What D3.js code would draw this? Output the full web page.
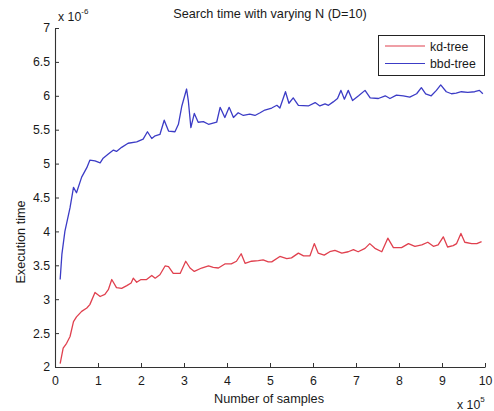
<!DOCTYPE html>
<html>
<head>
<meta charset="utf-8">
<script src="https://cdn.jsdelivr.net/npm/d3@7"></script>
<style>
  html, body { margin: 0; padding: 0; background: #fff; }
  svg { display: block; font-family: "Liberation Sans", Arial, sans-serif; }
</style>
</head>
<body>
<svg id="chart" width="494" height="411"></svg>
<script>
// Number of samples (x 10^5) and search time (x 10^-6) per structure
const kdX = [0.12,0.19,0.27,0.35,0.43,0.5,0.62,0.74,0.81,0.93,1.05,1.16,1.24,1.32,1.43,1.55,1.67,1.77,1.82,1.9,2.0,2.13,2.25,2.33,2.44,2.56,2.64,2.75,2.91,3.04,3.14,3.24,3.41,3.57,3.68,3.8,3.95,4.1,4.22,4.33,4.42,4.57,4.73,4.84,4.96,5.04,5.23,5.39,5.5,5.66,5.78,5.93,6.03,6.12,6.26,6.39,6.51,6.67,6.82,6.94,7.05,7.21,7.32,7.44,7.6,7.74,7.87,8.06,8.22,8.37,8.53,8.67,8.8,8.91,9.03,9.13,9.26,9.34,9.44,9.53,9.69,9.81,9.92];
const kdY = [2.05,2.28,2.35,2.45,2.67,2.74,2.82,2.87,2.92,3.1,3.04,3.07,3.14,3.29,3.17,3.16,3.2,3.24,3.31,3.25,3.29,3.29,3.35,3.31,3.36,3.49,3.48,3.38,3.38,3.56,3.46,3.41,3.46,3.49,3.47,3.46,3.52,3.52,3.56,3.67,3.53,3.56,3.57,3.58,3.55,3.55,3.63,3.6,3.61,3.68,3.64,3.64,3.82,3.68,3.65,3.7,3.72,3.68,3.7,3.73,3.7,3.75,3.82,3.75,3.7,3.9,3.76,3.76,3.82,3.78,3.8,3.84,3.78,3.8,3.92,3.77,3.79,3.82,3.97,3.84,3.82,3.82,3.85];

const bbdX = [0.12,0.16,0.23,0.35,0.43,0.5,0.62,0.74,0.81,0.93,1.05,1.12,1.24,1.36,1.43,1.55,1.7,1.9,2.05,2.15,2.25,2.33,2.44,2.54,2.64,2.79,2.87,2.95,3.06,3.1,3.16,3.24,3.33,3.45,3.57,3.76,3.84,3.95,4.05,4.15,4.26,4.38,4.53,4.65,4.77,4.88,5.04,5.16,5.23,5.36,5.44,5.54,5.66,5.89,6.05,6.16,6.28,6.36,6.47,6.57,6.65,6.73,6.82,6.92,7.06,7.21,7.33,7.52,7.68,7.79,7.94,8.1,8.25,8.41,8.52,8.62,8.75,8.87,8.97,9.1,9.22,9.33,9.45,9.6,9.76,9.87,9.95];
const bbdY = [3.29,3.66,4.0,4.35,4.65,4.57,4.8,4.94,5.05,5.04,5.01,5.08,5.14,5.2,5.18,5.24,5.3,5.32,5.36,5.47,5.37,5.41,5.43,5.64,5.48,5.47,5.58,5.85,6.1,5.93,5.53,5.74,5.61,5.62,5.58,5.61,5.83,5.68,5.83,5.68,5.75,5.71,5.73,5.71,5.75,5.79,5.82,5.86,5.82,6.06,5.89,5.97,5.86,5.85,5.9,5.85,5.88,5.86,5.91,5.96,6.08,5.95,6.08,5.93,6.0,6.08,5.97,5.96,6.0,5.96,6.01,6.0,5.98,6.03,6.12,6.03,6.0,6.08,6.16,6.06,6.03,6.04,6.06,6.05,6.06,6.08,6.03];

const xTicks = [0,1,2,3,4,5,6,7,8,9,10];
const yTicks = [2,2.5,3,3.5,4,4.5,5,5.5,6,6.5,7];
const seriesNames = ["kd-tree", "bbd-tree"];
const seriesColors = ["#e0404e", "#3c3cc6"];

const svg = d3.select("#chart");
const plotLeft = 55, plotRight = 485, plotTop = 28, plotBottom = 367;

const x = d3.scaleLinear().domain([0, 10]).range([plotLeft, plotRight]);
const y = d3.scaleLinear().domain([2, 7]).range([plotBottom, plotTop]);

const textColor = "#1a1a1a";

// Axes with inward ticks
const xAxis = svg.append("g")
  .attr("transform", `translate(0,${plotBottom})`)
  .call(d3.axisBottom(x).tickValues(xTicks).tickSizeInner(-4).tickSizeOuter(0).tickPadding(9).tickFormat(d3.format("d")));
const yAxis = svg.append("g")
  .attr("transform", `translate(${plotLeft},0)`)
  .call(d3.axisLeft(y).tickValues(yTicks).tickSizeInner(-4).tickSizeOuter(0).tickPadding(5).tickFormat(d => String(d)));

[xAxis, yAxis].forEach(g => {
  g.select(".domain").attr("stroke", "#333").attr("stroke-width", 1.1);
  g.selectAll(".tick line").attr("stroke", "#333");
  g.selectAll(".tick text").attr("fill", textColor)
    .style("font-size", "12.3px").style("font-family", "Liberation Sans, Arial, sans-serif");
});

// Series lines
const line = d3.line().x(d => x(d[0])).y(d => y(d[1]));
const kdData = kdX.map((v, i) => [v, kdY[i]]);
const bbdData = bbdX.map((v, i) => [v, bbdY[i]]);

svg.append("path").datum(kdData)
  .attr("d", line).attr("fill", "none")
  .attr("stroke", seriesColors[0]).attr("stroke-width", 1.3).attr("stroke-linejoin", "round");
svg.append("path").datum(bbdData)
  .attr("d", line).attr("fill", "none")
  .attr("stroke", seriesColors[1]).attr("stroke-width", 1.3).attr("stroke-linejoin", "round");

// Title
svg.append("text")
  .attr("x", (plotLeft + plotRight) / 2).attr("y", 18)
  .attr("text-anchor", "middle").attr("fill", textColor)
  .style("font-size", "12.7px")
  .text("Search time with varying N (D=10)");

// Axis labels
svg.append("text")
  .attr("x", (plotLeft + plotRight) / 2 - 1).attr("y", 403)
  .attr("text-anchor", "middle").attr("fill", textColor)
  .style("font-size", "12.7px")
  .text("Number of samples");

svg.append("text")
  .attr("transform", "translate(25,242) rotate(-90)")
  .attr("text-anchor", "middle").attr("fill", textColor)
  .style("font-size", "12.7px")
  .text("Execution time");

// Exponent multipliers
const yMult = svg.append("text").attr("x", 58).attr("y", 21).attr("fill", textColor).style("font-size", "12.3px");
yMult.append("tspan").text("x 10");
yMult.append("tspan").attr("dy", -7).style("font-size", "8px").text("-6");

const xMult = svg.append("text").attr("x", 457).attr("y", 409).attr("fill", textColor).style("font-size", "12.3px");
xMult.append("tspan").text("x 10");
xMult.append("tspan").attr("dy", -7).style("font-size", "8px").text("5");

// Legend
const legend = svg.append("g");
legend.append("rect")
  .attr("x", 378.5).attr("y", 35.5).attr("width", 106).attr("height", 40)
  .attr("fill", "#fff").attr("stroke", "#222").attr("stroke-width", 1);
seriesNames.forEach((name, i) => {
  const ly = 46 + i * 17.5;
  legend.append("line")
    .attr("x1", 385).attr("x2", 425).attr("y1", ly).attr("y2", ly)
    .attr("stroke", seriesColors[i]).attr("stroke-width", 1.2);
  legend.append("text")
    .attr("x", 430).attr("y", ly + 4.5)
    .attr("fill", textColor).style("font-size", "12.3px")
    .text(name);
});
</script>
</body>
</html>
